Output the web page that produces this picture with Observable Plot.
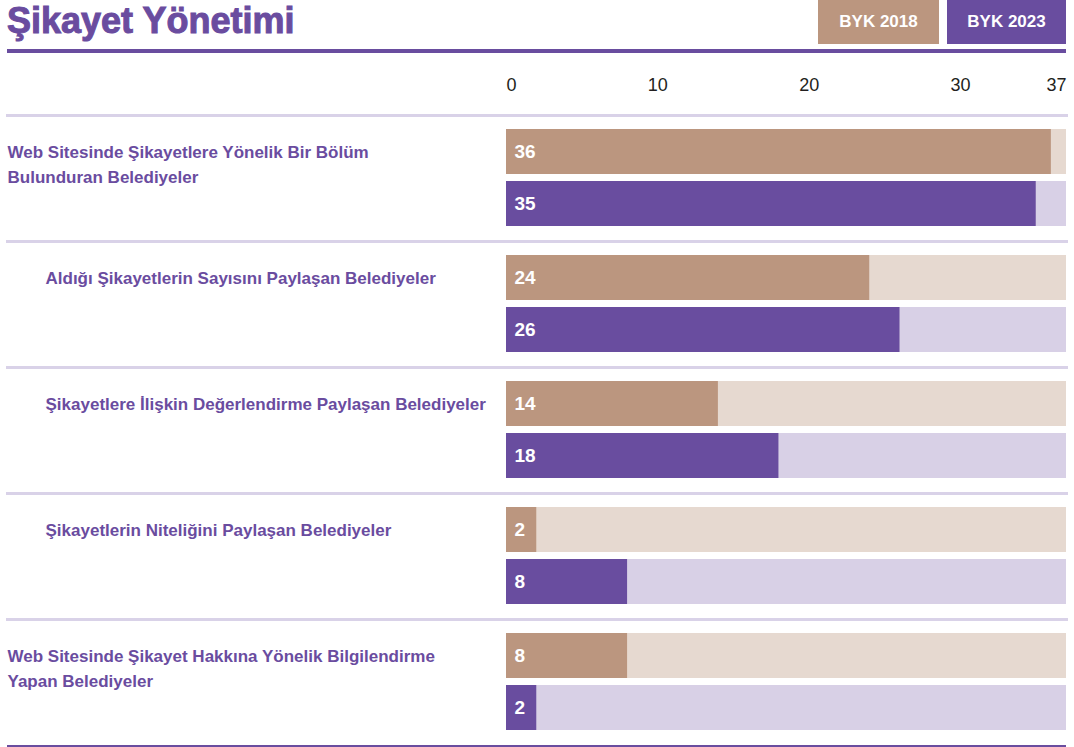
<!DOCTYPE html>
<html>
<head>
<meta charset="utf-8">
<script src="https://cdn.jsdelivr.net/npm/d3@7"></script>
<script src="https://cdn.jsdelivr.net/npm/@observablehq/plot@0.6"></script>
<style>
  html, body { margin: 0; padding: 0; background: #fff; }
  #wrap { width: 1074px; position: relative; font-family: "Liberation Sans", sans-serif; }
  #header { position: relative; width: 1074px; height: 53px; }
  #title { position: absolute; left: 7px; top: 0; font-family: "Liberation Sans", sans-serif; font-size: 36px; line-height: normal; font-weight: bold; color: #6a4c9f; -webkit-text-stroke: 1px #6a4c9f; white-space: nowrap; }
  .lg { position: absolute; top: 0; height: 44px; color: #fff; font-weight: bold; font-size: 17px; display: flex; align-items: center; justify-content: center; }
  #rule { position: absolute; left: 7px; top: 49px; width: 1059px; height: 4px; background: #694d9f; }
  #bottom { margin-left: 7px; width: 1059px; height: 2px; background: #694d9f; }
</style>
</head>
<body>
<div id="wrap">
  <div id="header">
    <div id="title"></div>
    <div id="legend"></div>
    <div id="rule"></div>
  </div>
  <div id="chart"></div>
  <div id="bottom"></div>
</div>
<script>
const titleText = "Şikayet Yönetimi";
const categories = [
  "Web Sitesinde Şikayetlere Yönelik Bir Bölüm\nBulunduran Belediyeler",
  "Aldığı Şikayetlerin Sayısını Paylaşan Belediyeler",
  "Şikayetlere İlişkin Değerlendirme Paylaşan Belediyeler",
  "Şikayetlerin Niteliğini Paylaşan Belediyeler",
  "Web Sitesinde Şikayet Hakkına Yönelik Bilgilendirme\nYapan Belediyeler"
];
const levels = [0, 1, 1, 1, 0];
const series = ["BYK 2018", "BYK 2023"];
const values2018 = [36, 24, 14, 2, 8];
const values2023 = [35, 26, 18, 8, 2];
const xMax = 37;
const xTicks = [0, 10, 20, 30, 37];
const seriesColors = ["#bb967f", "#694d9f"];
const trackColors = ["#e6d9d0", "#d8d0e6"];

document.getElementById("title").textContent = titleText;

// legend
const legendEl = document.getElementById("legend");
const legendBoxes = [{left: 818, width: 121}, {left: 947, width: 119}];
series.forEach((s, i) => {
  const d = document.createElement("div");
  d.className = "lg";
  d.style.left = legendBoxes[i].left + "px";
  d.style.width = legendBoxes[i].width + "px";
  d.style.background = seriesColors[i];
  d.textContent = s;
  legendEl.appendChild(d);
});

const data = [];
categories.forEach((c, i) => {
  data.push({category: c, level: levels[i], series: series[0], value: values2018[i]});
  data.push({category: c, level: levels[i], series: series[1], value: values2023[i]});
});
const labels = categories.map((c, i) => ({category: c, level: levels[i]}));

const font = "Liberation Sans, sans-serif";

const chart = Plot.plot({
  width: 1074,
  height: 692,
  marginTop: 61,
  marginBottom: 0,
  marginLeft: 7,
  marginRight: 8,
  style: {fontFamily: font, background: "#fff"},
  x: {domain: [0, xMax], range: [506, 1066], axis: null},
  y: {domain: series, paddingInner: 0.132, paddingOuter: 0.255, axis: null},
  fy: {domain: categories, padding: 0, axis: null},
  color: {domain: series, range: seriesColors},
  marks: [
    Plot.frame({anchor: "top", stroke: "#d9d2e8", strokeWidth: 3}),
    Plot.barX(data, {x1: 0, x2: () => xMax, y: "series", fy: "category", fill: d => trackColors[series.indexOf(d.series)]}),
    Plot.barX(data, {x1: 0, x2: "value", y: "series", fy: "category", fill: "series"}),
    Plot.text(data, {x: 0, y: "series", fy: "category", text: d => String(d.value), dx: 8, textAnchor: "start", fill: "#fff", fontWeight: "bold", fontSize: 19}),
    Plot.text(labels.filter(d => d.level === 0), {fy: "category", text: "category", frameAnchor: "top-left", textAnchor: "start", lineAnchor: "top", dy: 24, lineHeight: 1.5, fill: "#6a4c9f", fontWeight: "bold", fontSize: 17}),
    Plot.text(labels.filter(d => d.level === 1), {fy: "category", text: "category", frameAnchor: "top-left", textAnchor: "start", lineAnchor: "top", dy: 24, dx: 38, lineHeight: 1.5, fill: "#6a4c9f", fontWeight: "bold", fontSize: 17}),
    Plot.axisX(xTicks.slice(1, -1), {anchor: "top", tickSize: 0, tickPadding: 25, fontSize: 18, fill: "#231f20", label: null}),
    Plot.axisX(xTicks.slice(0, 1), {anchor: "top", tickSize: 0, tickPadding: 25, fontSize: 18, fill: "#231f20", textAnchor: "start", label: null}),
    Plot.axisX(xTicks.slice(-1), {anchor: "top", tickSize: 0, tickPadding: 25, fontSize: 18, fill: "#231f20", textAnchor: "end", label: null})
  ]
});
document.getElementById("chart").appendChild(chart);
</script>
</body>
</html>
